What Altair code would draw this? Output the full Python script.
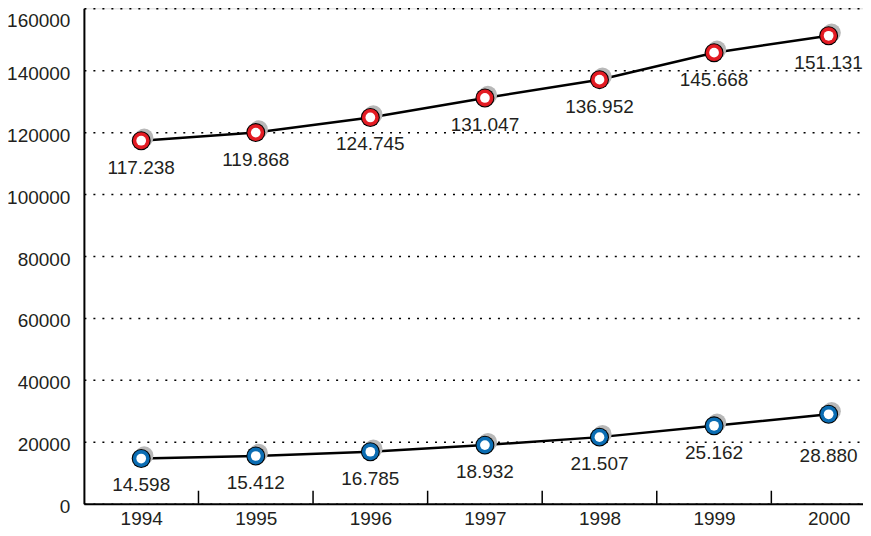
import altair as alt
import pandas as pd

years = [1994, 1995, 1996, 1997, 1998, 1999, 2000]
series_top = [117238, 119868, 124745, 131047, 136952, 145668, 151131]
series_bottom = [14598, 15412, 16785, 18932, 21507, 25162, 28880]
series_names = ["top", "bottom"]
series_colors = ["#e31b23", "#0b6db3"]
y_tick_values = [0, 20000, 40000, 60000, 80000, 100000, 120000, 140000, 160000]
x_tick_marks = [1994.5, 1995.5, 1996.5, 1997.5, 1998.5, 1999.5]

FONT = "Liberation Sans"

rows = []
for name, vals in zip(series_names, [series_top, series_bottom]):
    for y, v in zip(years, vals):
        rows.append({"year": y, "value": v, "series": name,
                     "label": f"{v:,}".replace(",", ".")})
df = pd.DataFrame(rows)
ticks_df = pd.DataFrame({"t": x_tick_marks})

W, H = 780, 496

x = alt.X("year:Q",
          scale=alt.Scale(domain=[1993.5, 2000.3], nice=False, zero=False),
          axis=alt.Axis(values=years, format="d", tickSize=0, labelFontSize=19,
                        labelFont=FONT, labelColor="#231f20", labelPadding=6,
                        domainColor="black", domainWidth=2, grid=False, title=None))
y = alt.Y("value:Q",
          scale=alt.Scale(domain=[0, 160000], nice=False),
          axis=alt.Axis(values=y_tick_values, format="d", tickSize=0, labelFontSize=19,
                        labelFont=FONT, labelColor="#231f20", labelPadding=14,
                        labelOffset=3,
                        labelBaseline=alt.condition("datum.value >= 160000",
                                                    alt.value("top"), alt.value("middle")),
                        grid=True, gridDash=[2, 7], gridColor="black", gridWidth=1.5,
                        domainColor="black", domainWidth=2, title=None))

base = alt.Chart(df)

line = base.mark_line(color="black", strokeWidth=2.5).encode(x=x, y=y, detail="series:N")
shadow = base.mark_circle(size=340, color="#b8b8b8", opacity=1, xOffset=3, yOffset=-3).encode(x=x, y=y)
outline = base.mark_circle(size=360, color="black", opacity=1).encode(x=x, y=y)
ring = base.mark_circle(size=285, opacity=1).encode(
    x=x, y=y,
    color=alt.Color("series:N", scale=alt.Scale(domain=series_names, range=series_colors), legend=None))
center = base.mark_circle(size=95, color="white", opacity=1).encode(x=x, y=y)

special = "datum.year == 2000 && datum.series == 'bottom'"
labels = base.transform_filter("!(" + special + ")").mark_text(
    dy=27, fontSize=19, font=FONT, color="#231f20").encode(x=x, y=y, text="label:N")
labels_low = base.transform_filter(special).mark_text(
    dy=42, fontSize=19, font=FONT, color="#231f20").encode(x=x, y=y, text="label:N")

tickmarks = alt.Chart(ticks_df).mark_rule(color="black", strokeWidth=1.5).encode(
    x=alt.X("t:Q"), y=alt.value(H - 13), y2=alt.value(H))

chart = alt.layer(line, tickmarks, shadow, outline, ring, center, labels, labels_low).properties(
    width=W, height=H,
    autosize=alt.AutoSizeParams(type="none"),
    padding={"left": 76, "top": 0, "right": 0, "bottom": 24},
).configure_view(stroke=None).configure(background="white")

chart.save("out.html", embed_options={"renderer": "svg", "actions": False})
